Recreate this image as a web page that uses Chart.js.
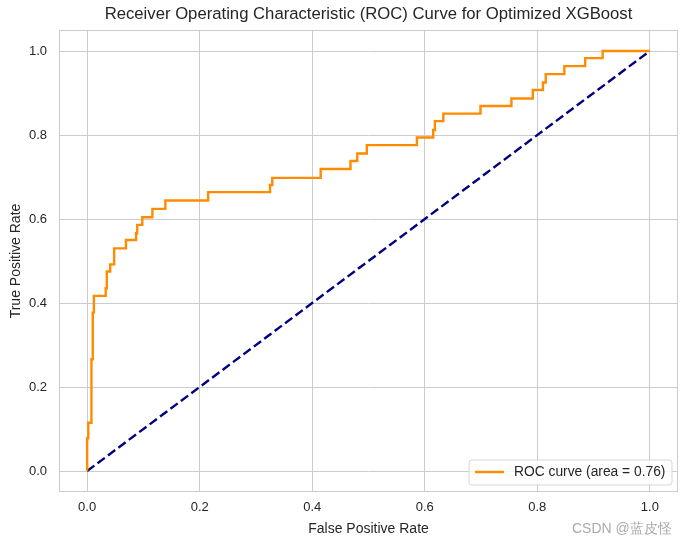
<!DOCTYPE html>
<html>
<head>
<meta charset="utf-8">
<script src="https://cdn.jsdelivr.net/npm/chart.js@4.4.1/dist/chart.umd.min.js"></script>
<style>
  html, body { margin: 0; padding: 0; background: #ffffff; }
  #wrap { position: relative; width: 688px; height: 545px; }
  #c { display: block; }
  #wm { position: absolute; left: 572px; top: 520px; font-family: "Liberation Sans", Arial, sans-serif; font-size: 14px; color: #aaaaaa; white-space: nowrap; }
</style>
</head>
<body>
<div id="wrap">
  <canvas id="c" width="688" height="545"></canvas>
  <div id="wm">CSDN @蓝皮怪</div>
</div>
<script>
const chartTitle = "Receiver Operating Characteristic (ROC) Curve for Optimized XGBoost";
const xLabel = "False Positive Rate";
const yLabel = "True Positive Rate";
const rocAuc = 0.76;
const tickValues = [0, 0.2, 0.4, 0.6, 0.8, 1.0];

const fpr = [0, 0, 0.002, 0.002, 0.007, 0.007, 0.008, 0.008, 0.010, 0.010, 0.012, 0.012,
  0.033, 0.033, 0.035, 0.035, 0.041, 0.041, 0.048, 0.048, 0.069, 0.069, 0.087, 0.087,
  0.089, 0.089, 0.098, 0.098, 0.116, 0.116, 0.139, 0.139, 0.215, 0.215, 0.325, 0.325,
  0.329, 0.329, 0.415, 0.415, 0.468, 0.468, 0.480, 0.480, 0.497, 0.497, 0.586, 0.586,
  0.615, 0.615, 0.618, 0.618, 0.633, 0.633, 0.699, 0.699, 0.754, 0.754, 0.792, 0.792,
  0.810, 0.810, 0.815, 0.815, 0.848, 0.848, 0.885, 0.885, 0.916, 0.916, 1.0];
const tpr = [0, 0.078, 0.078, 0.115, 0.115, 0.153, 0.153, 0.266, 0.266, 0.377, 0.377, 0.417,
  0.417, 0.435, 0.435, 0.475, 0.475, 0.492, 0.492, 0.530, 0.530, 0.550, 0.550, 0.566,
  0.566, 0.586, 0.586, 0.604, 0.604, 0.624, 0.624, 0.644, 0.644, 0.664, 0.664, 0.681,
  0.681, 0.698, 0.698, 0.719, 0.719, 0.738, 0.738, 0.756, 0.756, 0.776, 0.776, 0.794,
  0.794, 0.812, 0.812, 0.833, 0.833, 0.851, 0.851, 0.869, 0.869, 0.887, 0.887, 0.907,
  0.907, 0.925, 0.925, 0.945, 0.945, 0.964, 0.964, 0.983, 0.983, 1.0, 1.0];
const diagX = [0, 1];
const diagY = [0, 1];

const FONT = "'Liberation Sans', Arial, sans-serif";
const TEXT = "#262626";
const GRID = "#cccccc";

const rocPoints = fpr.map((x, i) => ({ x: x, y: tpr[i] }));
const diagPoints = diagX.map((x, i) => ({ x: x, y: diagY[i] }));

const framePlugin = {
  id: 'frame',
  afterDraw(chart) {
    const { ctx, chartArea: a } = chart;
    ctx.save();
    ctx.strokeStyle = GRID;
    ctx.lineWidth = 1;
    ctx.strokeRect(a.left + 0.5, a.top + 0.5, a.right - a.left - 1, a.bottom - a.top - 1);
    ctx.fillStyle = TEXT;
    ctx.font = "16.7px " + FONT;
    ctx.textAlign = 'center';
    ctx.textBaseline = 'middle';
    ctx.fillText(chartTitle, (a.left + a.right) / 2, 14);
    const lx = 469, ly = 460, lw = 203, lh = 25, r = 3;
    ctx.beginPath();
    ctx.moveTo(lx + r, ly);
    ctx.lineTo(lx + lw - r, ly);
    ctx.quadraticCurveTo(lx + lw, ly, lx + lw, ly + r);
    ctx.lineTo(lx + lw, ly + lh - r);
    ctx.quadraticCurveTo(lx + lw, ly + lh, lx + lw - r, ly + lh);
    ctx.lineTo(lx + r, ly + lh);
    ctx.quadraticCurveTo(lx, ly + lh, lx, ly + lh - r);
    ctx.lineTo(lx, ly + r);
    ctx.quadraticCurveTo(lx, ly, lx + r, ly);
    ctx.closePath();
    ctx.fillStyle = "rgba(255,255,255,0.8)";
    ctx.fill();
    ctx.strokeStyle = "#d6d6d6";
    ctx.lineWidth = 1;
    ctx.stroke();
    ctx.beginPath();
    ctx.moveTo(475, 472);
    ctx.lineTo(504, 472);
    ctx.strokeStyle = "#ff8c00";
    ctx.lineWidth = 2.4;
    ctx.stroke();
    ctx.fillStyle = TEXT;
    ctx.font = "13.8px " + FONT;
    ctx.textAlign = 'left';
    ctx.fillText("ROC curve (area = " + rocAuc.toFixed(2) + ")", 514, 472.5);
    ctx.restore();
  }
};

new Chart(document.getElementById('c'), {
  type: 'line',
  data: {
    datasets: [
      {
        label: "ROC curve (area = " + rocAuc.toFixed(2) + ")",
        data: rocPoints,
        borderColor: "#ff8c00",
        borderWidth: 2.4,
        pointRadius: 0,
        tension: 0,
        fill: false,
        order: 1
      },
      {
        label: "Chance",
        data: diagPoints,
        borderColor: "#000080",
        borderWidth: 2.4,
        borderDash: [9, 4],
        pointRadius: 0,
        tension: 0,
        fill: false,
        order: 2
      }
    ]
  },
  options: {
    responsive: false,
    animation: false,
    devicePixelRatio: 1,
    layout: { padding: { top: 30, right: 10, left: 0, bottom: 0 } },
    plugins: {
      legend: { display: false },
      title: { display: false },
      tooltip: { enabled: false }
    },
    scales: {
      x: {
        type: 'linear',
        min: -0.05,
        max: 1.05,
        afterBuildTicks(s) { s.ticks = tickValues.map(v => ({ value: v })); },
        afterFit(s) { s.height = 53; },
        grid: { color: GRID, lineWidth: 1, drawTicks: false },
        border: { display: false },
        ticks: {
          color: TEXT,
          font: { family: FONT, size: 13 },
          padding: 8,
          maxRotation: 0,
          callback: v => Number(v).toFixed(1)
        },
        title: {
          display: true,
          text: xLabel,
          color: TEXT,
          font: { family: FONT, size: 14 },
          padding: { top: 0, bottom: 7.5 }
        }
      },
      y: {
        type: 'linear',
        min: -0.05,
        max: 1.05,
        afterBuildTicks(s) { s.ticks = tickValues.map(v => ({ value: v })); },
        afterFit(s) { s.width = 59; },
        grid: { color: GRID, lineWidth: 1, drawTicks: false },
        border: { display: false },
        ticks: {
          color: TEXT,
          font: { family: FONT, size: 13 },
          padding: 12,
          callback: v => Number(v).toFixed(1)
        },
        title: {
          display: true,
          text: yLabel,
          color: TEXT,
          font: { family: FONT, size: 14 },
          padding: { top: 8, bottom: 0 }
        }
      }
    }
  },
  plugins: [framePlugin]
});
</script>
</body>
</html>
